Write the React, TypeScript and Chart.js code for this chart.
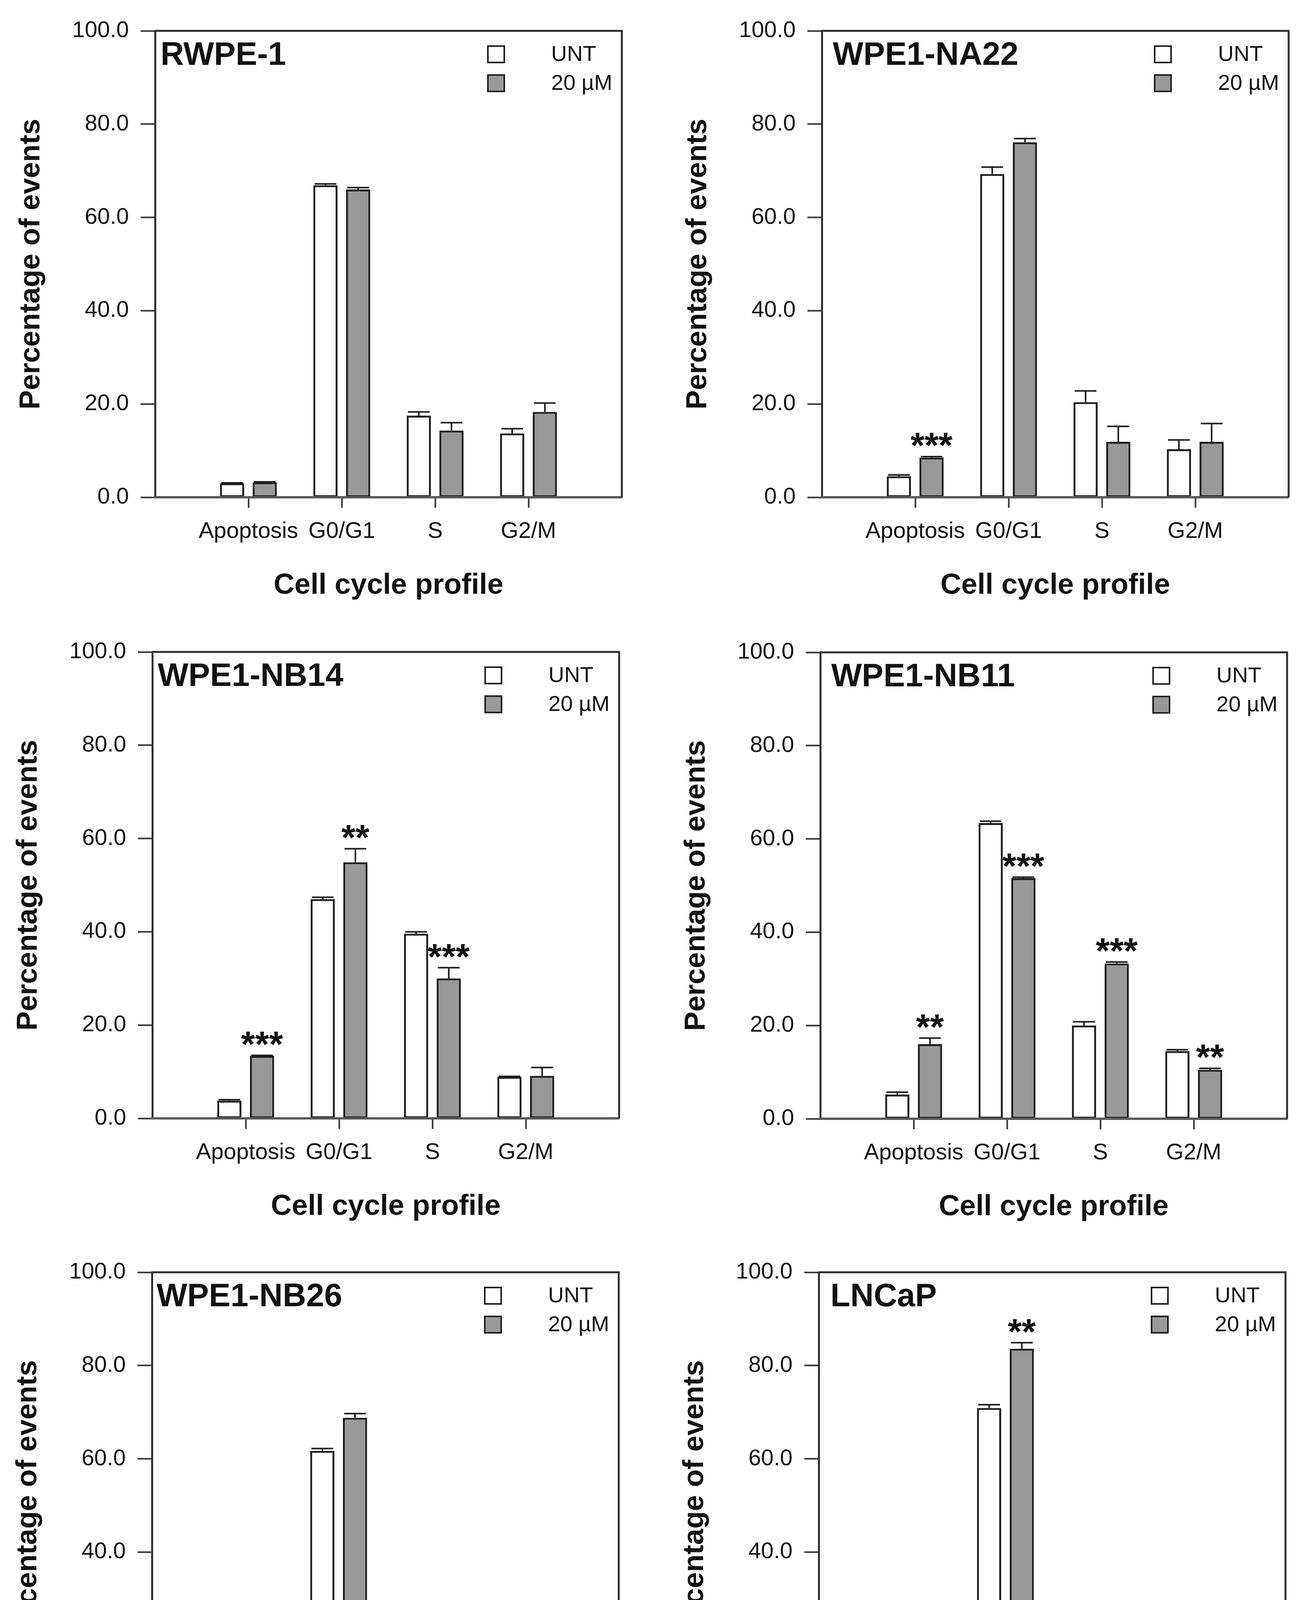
import { useEffect, useRef } from "react";
import Chart from "chart.js/auto";

const FONT = '"Liberation Sans", Arial, Helvetica, sans-serif';

const phases = ["Apoptosis", "G0/G1", "S", "G2/M"];
const seriesNames = ["UNT", "20 µM"];
const yTickStep = 20;

// RWPE-1
const rwpeUnt = [3.0, 66.9, 17.5, 13.7];
const rwpeUntErr = [0.1, 0.3, 0.8, 1.0];
const rwpeTrt = [3.2, 66.0, 14.3, 18.3];
const rwpeTrtErr = [0.1, 0.4, 1.7, 1.9];
const rwpeStars = ["", "", "", ""];

// WPE1-NA22
const na22Unt = [4.5, 69.3, 20.4, 10.3];
const na22UntErr = [0.3, 1.5, 2.4, 2.0];
const na22Trt = [8.5, 76.1, 11.9, 11.9];
const na22TrtErr = [0.2, 0.8, 3.3, 3.9];
const na22Stars = ["***", "", "", ""];

// WPE1-NB14
const nb14Unt = [3.8, 47.0, 39.6, 8.9];
const nb14UntErr = [0.2, 0.4, 0.4, 0.1];
const nb14Trt = [13.4, 54.9, 30.0, 9.1];
const nb14TrtErr = [0.1, 2.9, 2.3, 1.8];
const nb14Stars = ["***", "**", "***", ""];

// WPE1-NB11
const nb11Unt = [5.2, 63.4, 20.0, 14.5];
const nb11UntErr = [0.5, 0.4, 0.8, 0.3];
const nb11Trt = [16.0, 51.6, 33.3, 10.5];
const nb11TrtErr = [1.3, 0.2, 0.3, 0.3];
const nb11Stars = ["**", "***", "***", "**"];

// WPE1-NB26
const nb26Unt = [5.7, 61.7, 22.1, 16.0];
const nb26UntErr = [0.2, 0.5, 2.6, 2.9];
const nb26Trt = [15.1, 68.8, 23.3, 7.9];
const nb26TrtErr = [0.3, 0.9, 2.3, 2.1];
const nb26Stars = ["***", "", "", ""];

// LNCaP
const lncapUnt = [8.3, 70.9, 12.1, 15.8];
const lncapUntErr = [0.9, 0.7, 2.5, 3.5];
const lncapTrt = [16.1, 83.6, 12.3, 4.9];
const lncapTrtErr = [0.5, 1.3, 1.0, 2.3];
const lncapStars = ["***", "**", "", "**"];

// plot-area placement on the page (px)
const PLOT_W = 1195;
const PLOT_H = 1194;
const AXIS_W = 380;
const AXIS_H = 271;
const PAD_TOP = 79;
const PAD_RIGHT = 45;

const panels = [
  { name: "RWPE-1", unt: rwpeUnt, untErr: rwpeUntErr, trt: rwpeTrt, trtErr: rwpeTrtErr, stars: rwpeStars, left: 397, top: 79, dx: 14 },
  { name: "WPE1-NA22", unt: na22Unt, untErr: na22UntErr, trt: na22Trt, trtErr: na22TrtErr, stars: na22Stars, left: 2104, top: 79, dx: 28 },
  { name: "WPE1-NB14", unt: nb14Unt, untErr: nb14UntErr, trt: nb14Trt, trtErr: nb14TrtErr, stars: nb14Stars, left: 390, top: 1669, dx: 14 },
  { name: "WPE1-NB11", unt: nb11Unt, untErr: nb11UntErr, trt: nb11Trt, trtErr: nb11TrtErr, stars: nb11Stars, left: 2100, top: 1670, dx: 28 },
  { name: "WPE1-NB26", unt: nb26Unt, untErr: nb26UntErr, trt: nb26Trt, trtErr: nb26TrtErr, stars: nb26Stars, left: 389, top: 3257, dx: 12 },
  { name: "LNCaP", unt: lncapUnt, untErr: lncapUntErr, trt: lncapTrt, trtErr: lncapTrtErr, stars: lncapStars, left: 2096, top: 3257, dx: 30 },
];

const pad = (arr) => [null, ...arr, null];

function Panel({ p }) {
  const canvasRef = useRef(null);
  const chartRef = useRef(null);
  const W = AXIS_W + PLOT_W + PAD_RIGHT;
  const H = PAD_TOP + PLOT_H + AXIS_H;

  useEffect(() => {
    if (chartRef.current) chartRef.current.destroy();

    const overlay = {
      id: "overlay",
      afterDatasetsDraw(chart) {
        const { ctx } = chart;
        const y = chart.scales.y;
        const sets = [
          { vals: p.unt, errs: p.untErr },
          { vals: p.trt, errs: p.trtErr },
        ];
        ctx.save();
        ctx.strokeStyle = "#1e1e1e";
        ctx.lineWidth = 4;
        sets.forEach((s, di) => {
          const meta = chart.getDatasetMeta(di);
          s.vals.forEach((v, k) => {
            const el = meta.data[k + 1];
            if (!el) return;
            const { x, width } = el.getProps(["x", "width"], true);
            const yb = y.getPixelForValue(v);
            const yt = y.getPixelForValue(v + s.errs[k]);
            const half = (width * 0.9) / 2;
            ctx.beginPath();
            ctx.moveTo(x, yb);
            ctx.lineTo(x, yt);
            ctx.moveTo(x - half, yt);
            ctx.lineTo(x + half, yt);
            ctx.stroke();
          });
        });
        // significance marks over the treated bars
        const meta = chart.getDatasetMeta(1);
        ctx.fillStyle = "#111";
        ctx.font = "bold 92px " + FONT;
        ctx.textAlign = "center";
        ctx.textBaseline = "alphabetic";
        p.stars.forEach((s, k) => {
          if (!s) return;
          const el = meta.data[k + 1];
          const { x } = el.getProps(["x"], true);
          const yc = y.getPixelForValue(p.trt[k] + p.trtErr[k]) - 50;
          ctx.fillText(s, x, yc + 92 * 0.58);
        });
        ctx.restore();
      },
      afterDraw(chart) {
        const { ctx, chartArea: a } = chart;
        ctx.save();
        // top and right frame
        ctx.strokeStyle = "#2e2e2e";
        ctx.lineWidth = 5;
        ctx.beginPath();
        ctx.moveTo(a.left, a.top);
        ctx.lineTo(a.right, a.top);
        ctx.lineTo(a.right, a.bottom);
        ctx.stroke();
        // panel name
        ctx.fillStyle = "#111";
        ctx.font = "bold 83px " + FONT;
        ctx.textAlign = "left";
        ctx.textBaseline = "alphabetic";
        ctx.fillText(p.name, a.left + p.dx, a.top + 87);
        // legend
        ctx.font = "56px " + FONT;
        ctx.textBaseline = "middle";
        chart.data.datasets.forEach((ds, i) => {
          const cy = a.top + 60 + i * 74;
          const bx = a.left + 852;
          ctx.fillStyle = ds.backgroundColor;
          ctx.fillRect(bx, cy - 21, 42, 42);
          ctx.strokeStyle = "#1e1e1e";
          ctx.lineWidth = 4;
          ctx.strokeRect(bx, cy - 21, 42, 42);
          ctx.fillStyle = "#111";
          ctx.fillText(ds.label, a.left + 1014, cy + 2);
        });
        ctx.restore();
      },
    };

    chartRef.current = new Chart(canvasRef.current, {
      type: "bar",
      data: {
        labels: ["", ...phases, ""],
        datasets: [
          {
            label: seriesNames[0],
            data: pad(p.unt),
            backgroundColor: "#ffffff",
            borderColor: "#1e1e1e",
            borderWidth: 5,
            borderSkipped: false,
            categoryPercentage: 0.7,
            barPercentage: 0.74,
          },
          {
            label: seriesNames[1],
            data: pad(p.trt),
            backgroundColor: "#999999",
            borderColor: "#1e1e1e",
            borderWidth: 5,
            borderSkipped: false,
            categoryPercentage: 0.7,
            barPercentage: 0.74,
          },
        ],
      },
      options: {
        responsive: false,
        animation: false,
        devicePixelRatio: 1,
        layout: { padding: { left: 0, top: PAD_TOP, right: PAD_RIGHT, bottom: 0 } },
        plugins: {
          legend: { display: false },
          tooltip: { enabled: false },
        },
        scales: {
          x: {
            type: "category",
            offset: false,
            grid: {
              offset: false,
              drawOnChartArea: false,
              drawTicks: true,
              tickLength: 27,
              tickWidth: 4,
              tickColor: "#333",
            },
            border: { display: true, color: "#5a5a5a", width: 6, z: 1 },
            ticks: {
              autoSkip: false,
              maxRotation: 0,
              padding: 26,
              color: "#111",
              font: { family: FONT, size: 58 },
            },
            title: {
              display: true,
              text: "Cell cycle profile",
              color: "#111",
              padding: { top: 0, bottom: 0 },
              font: { family: FONT, size: 74, weight: "bold" },
            },
            afterBuildTicks: (scale) => {
              scale.ticks = scale.ticks.filter((t) => t.value >= 1 && t.value <= phases.length);
            },
            afterFit: (scale) => {
              scale.height = AXIS_H;
            },
          },
          y: {
            min: 0,
            max: 100,
            grid: {
              drawOnChartArea: false,
              drawTicks: true,
              tickLength: 37,
              tickWidth: 4,
              tickColor: "#333",
            },
            border: { display: true, color: "#2e2e2e", width: 5 },
            ticks: {
              stepSize: yTickStep,
              padding: 30,
              color: "#111",
              font: { family: FONT, size: 58 },
              callback: (v) => Number(v).toFixed(1),
            },
            title: {
              display: true,
              text: "Percentage of events",
              color: "#111",
              padding: { top: 19, bottom: 0 },
              font: { family: FONT, size: 74, weight: "bold" },
            },
            afterFit: (scale) => {
              scale.width = AXIS_W;
            },
          },
        },
      },
      plugins: [overlay],
    });

    return () => {
      if (chartRef.current) {
        chartRef.current.destroy();
        chartRef.current = null;
      }
    };
  }, [p]);

  return (
    <div
      style={{
        position: "absolute",
        left: p.left - AXIS_W - 8,
        top: p.top - PAD_TOP - 8,
        width: W,
        height: H,
      }}
    >
      <canvas ref={canvasRef} width={W} height={H} style={{ width: W, height: H, display: "block" }} />
    </div>
  );
}

export default function App() {
  return (
    <div style={{ position: "relative", width: 3330, height: 4734, background: "#fff" }}>
      {panels.map((p) => (
        <Panel key={p.name} p={p} />
      ))}
    </div>
  );
}
